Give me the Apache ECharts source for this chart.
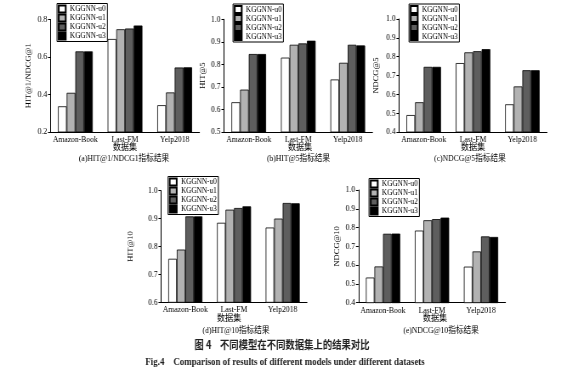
<!DOCTYPE html>
<html>
<head>
<meta charset="utf-8">
<script src="https://cdn.jsdelivr.net/npm/echarts@6.0.0/dist/echarts.min.js"></script>
<style>
html,body{margin:0;padding:0;background:#fff;overflow:hidden;width:571px;height:372px;}
#c{width:672px;height:372px;transform:scaleX(0.85);transform-origin:0 0;}
</style>
</head>
<body>
<div id="c"></div>
<script>
// ---------- data ----------
const categories = ['Amazon-Book', 'Last-FM', 'Yelp2018'];
const seriesNames = ['KGGNN-u0', 'KGGNN-u1', 'KGGNN-u2', 'KGGNN-u3'];

// (a) HIT@1/NDCG@1
const hit1_u0 = [0.337, 0.696, 0.343];
const hit1_u1 = [0.409, 0.748, 0.411];
const hit1_u2 = [0.630, 0.752, 0.544];
const hit1_u3 = [0.630, 0.768, 0.545];
// (b) HIT@5
const hit5_u0 = [0.632, 0.830, 0.733];
const hit5_u1 = [0.688, 0.887, 0.807];
const hit5_u2 = [0.846, 0.893, 0.887];
const hit5_u3 = [0.846, 0.905, 0.884];
// (c) NDCG@5
const ndcg5_u0 = [0.490, 0.766, 0.547];
const ndcg5_u1 = [0.558, 0.823, 0.642];
const ndcg5_u2 = [0.746, 0.829, 0.728];
const ndcg5_u3 = [0.746, 0.840, 0.728];
// (d) HIT@10
const hit10_u0 = [0.756, 0.885, 0.868];
const hit10_u1 = [0.789, 0.932, 0.900];
const hit10_u2 = [0.908, 0.938, 0.956];
const hit10_u3 = [0.908, 0.944, 0.955];
// (e) NDCG@10
const ndcg10_u0 = [0.534, 0.784, 0.592];
const ndcg10_u1 = [0.593, 0.839, 0.673];
const ndcg10_u2 = [0.767, 0.845, 0.753];
const ndcg10_u3 = [0.768, 0.853, 0.750];

// axis ranges / tick labels
const yNames = ['HIT@1/NDCG@1', 'HIT@5', 'NDCG@5', 'HIT@10', 'NDCG@10'];
const yMins = [0.2, 0.5, 0.4, 0.6, 0.4];
const yMaxs = [0.8, 1.0, 1.0, 1.0, 1.0];
const yIntervals = [0.2, 0.1, 0.1, 0.1, 0.1];
const xAxisTitle = '数据集';
const captions = ['(a)HIT@1/NDCG1指标结果', '(b)HIT@5指标结果', '(c)NDCG@5指标结果', '(d)HIT@10指标结果', '(e)NDCG@10指标结果'];
const figTitleCn = '图 4    不同模型在不同数据集上的结果对比';
const figTitleEn = 'Fig.4    Comparison of results of different models under different datasets';

const panelData = [
  [hit1_u0, hit1_u1, hit1_u2, hit1_u3],
  [hit5_u0, hit5_u1, hit5_u2, hit5_u3],
  [ndcg5_u0, ndcg5_u1, ndcg5_u2, ndcg5_u3],
  [hit10_u0, hit10_u1, hit10_u2, hit10_u3],
  [ndcg10_u0, ndcg10_u1, ndcg10_u2, ndcg10_u3]
];

// ---------- layout (reference pixel coords; x compressed by S) ----------
const S = 0.85;
const X = v => v / S;
const grids = [
  {l: 50.5, w: 149, t: 19.5, h: 112.5},
  {l: 224, w: 148.5, t: 19.3, h: 112.7},
  {l: 399, w: 148, t: 19, h: 113},
  {l: 161, w: 146, t: 190.7, h: 111.6},
  {l: 358.5, w: 147, t: 190, h: 112.7}
];
const legendPos = [[57, 3.5], [233, 4], [409, 4], [168, 176.5], [369, 178.5]];
const nameGaps = [21, 20.5, 22.8, 31, 21];
const xTitlePos = [[125, 147], [300, 147], [473, 147], [229, 318], [435, 318]];
const captionPos = [[124, 159], [298.5, 159], [470, 159], [236, 331], [441, 331]];
const colors = ['#ffffff', '#b2b2b2', '#5e5e5e', '#000000'];
const serif = '"Liberation Serif", "Times New Roman", "Noto Sans CJK SC", serif';

const option = {
  backgroundColor: '#fff',
  animation: false,
  grid: [], xAxis: [], yAxis: [], series: [], legend: [], graphic: []
};

grids.forEach((g, p) => {
  option.grid.push({left: X(g.l), top: g.t, width: X(g.w), height: g.h, containLabel: false});
  option.xAxis.push({
    type: 'category', gridIndex: p, data: categories,
    axisLine: {lineStyle: {color: '#000', width: 1}},
    axisTick: {show: false},
    axisLabel: {color: '#000', fontSize: 9, fontFamily: serif, margin: 3, interval: 0}
  });
  option.yAxis.push({
    type: 'value', gridIndex: p, min: yMins[p], max: yMaxs[p], interval: yIntervals[p],
    name: yNames[p], nameLocation: 'middle', nameGap: nameGaps[p],
    nameTextStyle: {color: '#000', fontSize: 8.5, fontFamily: serif},
    axisLine: {show: true, lineStyle: {color: '#000', width: 1}},
    axisTick: {show: true, length: 3, lineStyle: {color: '#000'}},
    splitLine: {show: false},
    axisLabel: {color: '#000', fontSize: 9, fontFamily: serif, margin: 4,
      formatter: v => v.toFixed(1)}
  });
  panelData[p].forEach((vals, k) => {
    option.series.push({
      type: 'bar', name: seriesNames[k], xAxisIndex: p, yAxisIndex: p, data: vals,
      barGap: '0%', barCategoryGap: '30%',
      itemStyle: {color: colors[k], borderColor: '#000', borderWidth: 0.8}
    });
  });
  option.legend.push({
    orient: 'vertical', left: X(legendPos[p][0]), top: legendPos[p][1],
    data: seriesNames, icon: 'rect', itemWidth: X(7), itemHeight: 7, itemGap: 0,
    padding: [1, 2, 1, 1], borderColor: '#000', borderWidth: 1, backgroundColor: '#fff',
    selectedMode: false, z: 10,
    textStyle: {color: '#000', fontSize: 8.5, lineHeight: 8, fontFamily: serif}
  });
  option.graphic.push({
    type: 'text', x: X(xTitlePos[p][0]), y: xTitlePos[p][1], z: 20,
    style: {text: xAxisTitle, align: 'center', verticalAlign: 'middle', fontSize: 9.5, fontFamily: serif, fill: '#000'}
  });
  option.graphic.push({
    type: 'text', x: X(captionPos[p][0]), y: captionPos[p][1], z: 20,
    style: {text: captions[p], align: 'center', verticalAlign: 'middle', fontSize: 9, fontFamily: serif, fill: '#000'}
  });
});

option.graphic.push({
  type: 'text', x: X(282), y: 345, z: 20,
  style: {text: figTitleCn, align: 'center', verticalAlign: 'middle', fontSize: 11, fontWeight: 'bold',
    fontFamily: '"Noto Sans CJK SC", sans-serif', fill: '#222'}
});
option.graphic.push({
  type: 'text', x: X(285), y: 362, z: 20,
  style: {text: figTitleEn, align: 'center', verticalAlign: 'middle', fontSize: 10.5, fontWeight: 'bold',
    fontFamily: serif, fill: '#222'}
});

const chart = echarts.init(document.getElementById('c'), null, {renderer: 'canvas'});
chart.setOption(option);
</script>
</body>
</html>
